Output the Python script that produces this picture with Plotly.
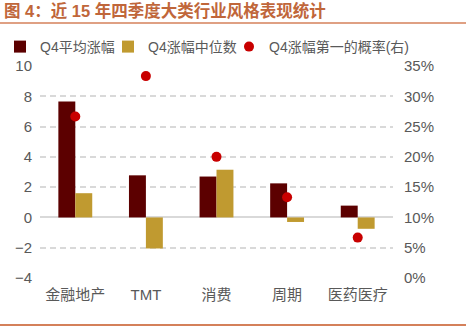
import plotly.graph_objects as go

categories = ["金融地产", "TMT", "消费", "周期", "医药医疗"]
avg_gain = [7.65, 2.78, 2.7, 2.25, 0.78]
median_gain = [1.6, -2.05, 3.15, -0.3, -0.75]
first_prob = [4/15, 5/15, 3/15, 2/15, 1/15]

left_ticks = [-4, -2, 0, 2, 4, 6, 8, 10]
right_ticks = [0, 0.05, 0.10, 0.15, 0.20, 0.25, 0.30, 0.35]

C_AVG = "#5C0000"
C_MED = "#C09A30"
C_DOT = "#C80000"
GRAY = "#595959"
LAT = "Liberation Sans, Noto Sans CJK SC"

W, H = 466, 329

fig = go.Figure()
fig.add_trace(go.Bar(x=categories, y=avg_gain, name="Q4平均涨幅", legend="legend",
                     marker=dict(color=C_AVG, line=dict(width=0))))
fig.add_trace(go.Bar(x=categories, y=median_gain, name="Q4涨幅中位数", legend="legend2",
                     marker=dict(color=C_MED, line=dict(width=0))))
fig.add_trace(go.Scatter(x=categories, y=first_prob, name="Q4涨幅第一的概率(右)",
                         legend="legend3", mode="markers", yaxis="y2",
                         marker=dict(color=C_DOT, size=10)))

def leg(xpx):
    return dict(orientation="h", xref="container", yref="container",
                x=xpx / W, y=1 - 47 / H, xanchor="left", yanchor="middle",
                font=dict(size=14, color=GRAY, family=LAT), itemwidth=30,
                bgcolor="rgba(0,0,0,0)")

fig.update_layout(
    width=W, height=H,
    margin=dict(l=40, r=73, t=66, b=51, autoexpand=False),
    paper_bgcolor="white", plot_bgcolor="white",
    barmode="group", bargap=0.52, bargroupgap=0,
    font=dict(family=LAT, color=GRAY, size=15),
    showlegend=True,
    legend=leg(-5), legend2=leg(108), legend3=leg(229),
    xaxis=dict(showgrid=False, showline=False, ticks="", ticklabelstandoff=6,
               tickfont=dict(size=15, color=GRAY, family=LAT)),
    yaxis=dict(range=[-4, 10], tickvals=left_ticks, showgrid=True,
               gridcolor="#D9D9D9", griddash="6px,4px", gridwidth=1.5,
               zeroline=True, zerolinecolor="#D9D9D9", zerolinewidth=2,
               showline=False, ticks="", ticklabelstandoff=7,
               tickfont=dict(size=15, color=GRAY, family=LAT)),
    yaxis2=dict(range=[0, 0.35], tickvals=right_ticks, tickformat=".0%",
                overlaying="y", side="right", showgrid=False, zeroline=False,
                showline=False, ticks="", ticklabelstandoff=10,
                tickfont=dict(size=15, color=GRAY, family=LAT)),
)

fig.add_annotation(text="图 4：近 15 年四季度大类行业风格表现统计",
                   xref="paper", yref="paper", x=-38/353, y=1 + (66 - 10)/212,
                   xanchor="left", yanchor="middle", showarrow=False,
                   font=dict(size=16.5, color="#C0663A", family=LAT, weight="bold"))
fig.add_shape(type="line", xref="paper", yref="paper",
              x0=-40/353, x1=1 + 73/353, y0=1 + (66 - 23)/212, y1=1 + (66 - 23)/212,
              line=dict(color="#D4805A", width=1.5))
fig.add_shape(type="line", xref="paper", yref="paper",
              x0=-40/353, x1=1 + 73/353, y0=-(325 - 278)/212, y1=-(325 - 278)/212,
              line=dict(color="#D4805A", width=2))

fig.write_html("out.html")
